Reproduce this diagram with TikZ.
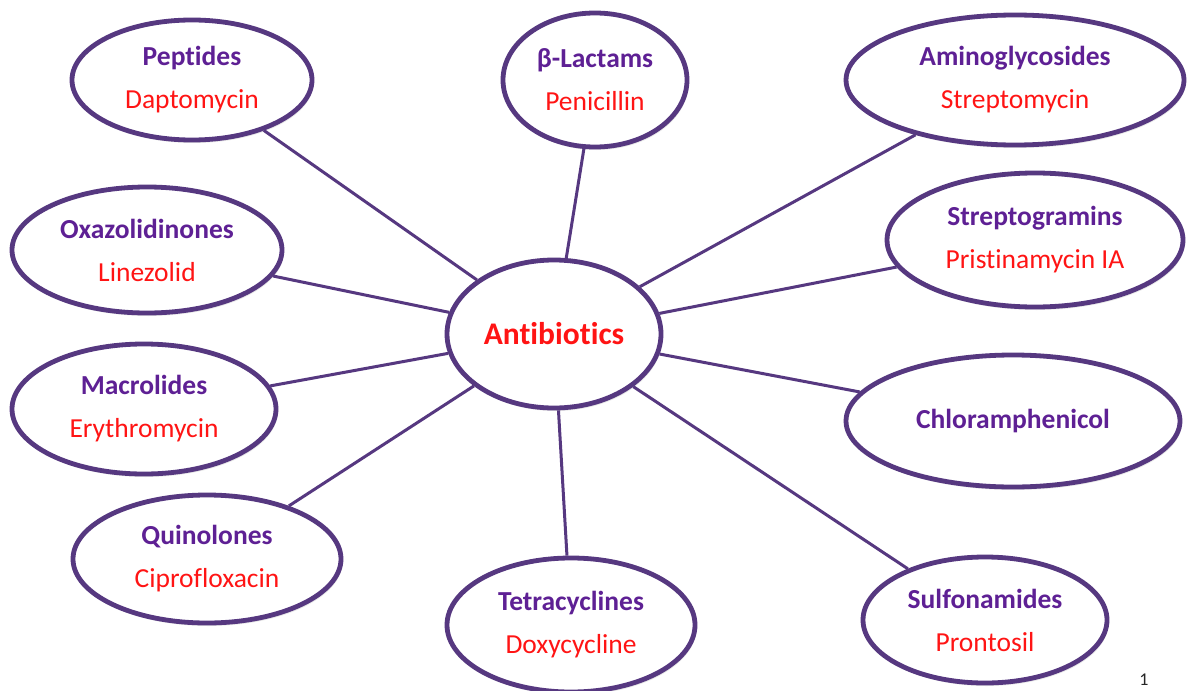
\documentclass[tikz,border=0pt]{standalone}
\usepackage{fontspec}
\setmainfont{Carlito}[Ligatures={NoCommon}]
\usetikzlibrary{shapes.geometric,shadows}
\definecolor{edgepurple}{RGB}{86,56,128}
\definecolor{catpurple}{RGB}{94,32,148}
\definecolor{exred}{RGB}{255,20,20}
\newcommand\cattext[1]{\textcolor{catpurple}{\bfseries #1}}
\newcommand\extext[1]{\textcolor{exred}{#1}}
\tikzset{
  bubble/.style={ellipse, draw=edgepurple, line width=4.8pt, fill=white,
    inner sep=0pt, align=center, font=\fontsize{27.5}{43}\selectfont,
    drop shadow={opacity=0.18, shadow xshift=1.5pt, shadow yshift=-3pt}},
  link/.style={draw=edgepurple, line width=3pt},
}
\begin{document}
\begin{tikzpicture}[x=1pt,y=-1pt]
\useasboundingbox (0,0) rectangle (1190,690);
\fill[white] (0,0) rectangle (1190,690);
\node[bubble, minimum width=214pt, minimum height=148pt,
  font=\fontsize{31.5}{38}\selectfont] (center) at (554,334)
  {\textcolor{exred}{\bfseries Antibiotics}};
\node[bubble, minimum width=240pt, minimum height=120pt] (pep) at (192,80)
  {\cattext{Peptides}\\\extext{Daptomycin}};
\node[bubble, minimum width=184pt, minimum height=134pt] (lac) at (595,80)
  {\cattext{β-Lactams}\\\extext{Penicillin}};
\node[bubble, minimum width=338pt, minimum height=130pt] (ami) at (1015,80)
  {\cattext{Aminoglycosides}\\\extext{Streptomycin}};
\node[bubble, minimum width=270pt, minimum height=126pt] (oxa) at (147,250)
  {\cattext{Oxazolidinones}\\\extext{Linezolid}};
\node[bubble, minimum width=296pt, minimum height=134pt] (str) at (1035,240)
  {\cattext{Streptogramins}\\\extext{Pristinamycin IA}};
\node[bubble, minimum width=264pt, minimum height=130pt] (mac) at (144,409)
  {\cattext{Macrolides}\\\extext{Erythromycin}};
\node[bubble, minimum width=334pt, minimum height=132pt] (chl) at (1013,421)
  {\cattext{Chloramphenicol}};
\node[bubble, minimum width=268pt, minimum height=128pt] (qui) at (207,559)
  {\cattext{Quinolones}\\\extext{Ciprofloxacin}};
\node[bubble, minimum width=248pt, minimum height=134pt] (tet) at (571,625)
  {\cattext{Tetracyclines}\\\extext{Doxycycline}};
\node[bubble, minimum width=244pt, minimum height=126pt] (sul) at (985,620)
  {\cattext{Sulfonamides}\\\extext{Prontosil}};
\foreach \n in {pep,lac,ami,oxa,str,mac,chl,qui,tet,sul}
  \draw[link] (center) -- (\n);
\node[font=\fontsize{18}{20}\selectfont, text=black!85, inner sep=0pt,
  anchor=base] (pageno) at (1144,685) {1};
\end{tikzpicture}
\end{document}
